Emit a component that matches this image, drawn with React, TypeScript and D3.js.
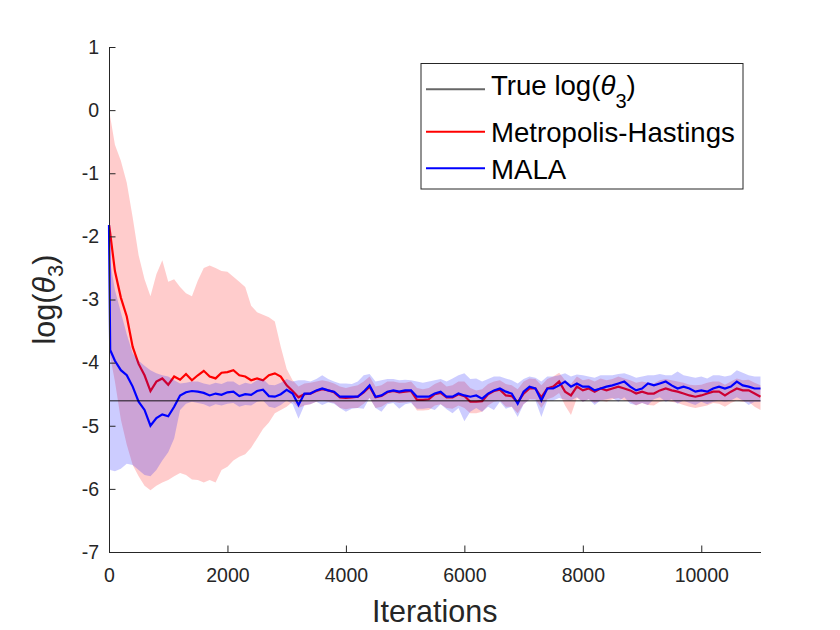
import React, { useRef, useEffect } from 'react';
import * as d3 from 'd3';

// iteration grid of the traces (dense at the very start where MALA drops)
const iterations: number[] = [0, 20, ...d3.range(100, 11001, 100)];

const trueLogTheta3 = -4.605;

const mhMean = [
	-1.82, -1.95,
	-2.55, -2.97, -3.27, -3.75, -4.02, -4.2, -4.45, -4.3, -4.25, -4.35,
	-4.22, -4.27, -4.18, -4.28, -4.2, -4.13, -4.22, -4.25, -4.16, -4.15,
	-4.12, -4.2, -4.22, -4.28, -4.25, -4.28, -4.2, -4.17, -4.22, -4.36,
	-4.45, -4.55, -4.5, -4.49, -4.45, -4.42, -4.44, -4.47, -4.55, -4.56,
	-4.55, -4.54, -4.47, -4.38, -4.55, -4.53, -4.47, -4.45, -4.47, -4.46,
	-4.45, -4.59, -4.59, -4.58, -4.5, -4.48, -4.55, -4.55, -4.5, -4.53,
	-4.62, -4.62, -4.61, -4.5, -4.45, -4.43, -4.52, -4.53, -4.63, -4.49,
	-4.41, -4.41, -4.55, -4.41, -4.38, -4.3, -4.46, -4.52, -4.38, -4.44,
	-4.41, -4.46, -4.41, -4.44, -4.41, -4.38, -4.41, -4.44, -4.49, -4.46,
	-4.49, -4.49, -4.44, -4.41, -4.44, -4.46, -4.49, -4.52, -4.54, -4.52,
	-4.49, -4.46, -4.46, -4.52, -4.46, -4.41, -4.44, -4.44, -4.49, -4.54,
];

const mhUpper = [
	0.15, -0.1,
	-0.55, -0.8, -1.15, -1.7, -2.3, -2.68, -2.95, -2.6, -2.38, -2.72,
	-2.68, -2.8, -2.9, -2.95, -2.7, -2.5, -2.46, -2.5, -2.55, -2.56,
	-2.64, -2.72, -2.8, -3.1, -3.2, -3.24, -3.28, -3.35, -3.75, -4.1,
	-4.28, -4.38, -4.33, -4.32, -4.3, -4.28, -4.3, -4.33, -4.38, -4.4,
	-4.38, -4.36, -4.3, -4.22, -4.38, -4.36, -4.3, -4.3, -4.32, -4.32,
	-4.3, -4.4, -4.42, -4.4, -4.34, -4.3, -4.38, -4.36, -4.3, -4.3,
	-4.4, -4.44, -4.42, -4.34, -4.3, -4.28, -4.34, -4.36, -4.42, -4.3,
	-4.25, -4.26, -4.36, -4.26, -4.22, -4.16, -4.28, -4.34, -4.22, -4.28,
	-4.26, -4.3, -4.25, -4.28, -4.26, -4.22, -4.25, -4.28, -4.32, -4.3,
	-4.32, -4.33, -4.28, -4.26, -4.28, -4.3, -4.32, -4.35, -4.36, -4.35,
	-4.32, -4.3, -4.3, -4.35, -4.3, -4.25, -4.28, -4.27, -4.32, -4.36,
];

const mhLower = [
	-3.7, -3.9,
	-4.3, -4.9, -5.3, -5.62, -5.8, -5.95, -6.02, -5.95, -5.9, -5.86,
	-5.8, -5.75, -5.78, -5.85, -5.86, -5.9, -5.86, -5.9, -5.7, -5.65,
	-5.55, -5.49, -5.45, -5.35, -5.2, -5.05, -4.95, -4.8, -4.75, -4.7,
	-4.62, -4.72, -4.68, -4.66, -4.62, -4.6, -4.62, -4.64, -4.72, -4.74,
	-4.72, -4.72, -4.65, -4.56, -4.72, -4.7, -4.64, -4.62, -4.64, -4.63,
	-4.62, -4.76, -4.76, -4.75, -4.68, -4.66, -4.72, -4.73, -4.68, -4.72,
	-4.8, -4.8, -4.78, -4.68, -4.62, -4.6, -4.7, -4.7, -4.8, -4.66,
	-4.58, -4.58, -4.72, -4.58, -4.55, -4.48, -4.68, -4.83, -4.56, -4.62,
	-4.58, -4.64, -4.6, -4.62, -4.58, -4.56, -4.6, -4.62, -4.68, -4.64,
	-4.67, -4.68, -4.62, -4.6, -4.62, -4.64, -4.67, -4.7, -4.72, -4.7,
	-4.68, -4.64, -4.65, -4.7, -4.64, -4.6, -4.62, -4.62, -4.7, -4.75,
];

const malaMean = [
	-1.82, -3.8,
	-3.97, -4.12, -4.2, -4.38, -4.62, -4.75, -5.0, -4.88, -4.82, -4.85,
	-4.7, -4.52, -4.47, -4.45, -4.46, -4.48, -4.52, -4.49, -4.51, -4.47,
	-4.46, -4.53, -4.5, -4.51, -4.45, -4.43, -4.53, -4.54, -4.5, -4.43,
	-4.49, -4.67, -4.49, -4.49, -4.44, -4.41, -4.44, -4.46, -4.54, -4.54,
	-4.54, -4.54, -4.46, -4.36, -4.54, -4.52, -4.46, -4.44, -4.46, -4.44,
	-4.44, -4.54, -4.54, -4.54, -4.49, -4.46, -4.54, -4.54, -4.49, -4.52,
	-4.54, -4.52, -4.57, -4.49, -4.44, -4.41, -4.46, -4.49, -4.65, -4.46,
	-4.38, -4.41, -4.6, -4.41, -4.41, -4.36, -4.3, -4.38, -4.33, -4.38,
	-4.38, -4.44, -4.41, -4.38, -4.36, -4.33, -4.3, -4.38, -4.44, -4.41,
	-4.33, -4.36, -4.33, -4.3, -4.36, -4.41, -4.38, -4.41, -4.46, -4.44,
	-4.46, -4.41, -4.38, -4.41, -4.38, -4.3, -4.36, -4.38, -4.41, -4.41,
];

const malaUpper = [
	-1.82, -2.4,
	-2.85, -3.2, -3.55, -3.85, -3.97, -4.05, -4.12, -4.17, -4.2, -4.22,
	-4.28, -4.33, -4.32, -4.3, -4.3, -4.33, -4.35, -4.32, -4.34, -4.3,
	-4.3, -4.36, -4.32, -4.34, -4.28, -4.26, -4.35, -4.36, -4.32, -4.26,
	-4.3, -4.28, -4.28, -4.3, -4.26, -4.2, -4.26, -4.3, -4.33, -4.33,
	-4.34, -4.3, -4.2, -4.18, -4.3, -4.28, -4.26, -4.26, -4.28, -4.27,
	-4.28, -4.3, -4.32, -4.3, -4.28, -4.26, -4.3, -4.25, -4.2, -4.17,
	-4.26, -4.25, -4.3, -4.26, -4.22, -4.22, -4.25, -4.28, -4.33, -4.26,
	-4.22, -4.24, -4.3, -4.22, -4.22, -4.2, -4.17, -4.22, -4.19, -4.2,
	-4.22, -4.24, -4.2, -4.2, -4.2, -4.18, -4.17, -4.2, -4.24, -4.22,
	-4.2, -4.2, -4.18, -4.2, -4.2, -4.14, -4.2, -4.22, -4.24, -4.22,
	-4.25, -4.2, -4.2, -4.22, -4.2, -4.12, -4.16, -4.2, -4.22, -4.22,
];

const malaLower = [
	-5.55, -5.7,
	-5.72, -5.68, -5.6, -5.62, -5.7, -5.78, -5.8, -5.7, -5.55, -5.42,
	-5.2, -4.75, -4.65, -4.62, -4.64, -4.66, -4.7, -4.66, -4.68, -4.65,
	-4.64, -4.7, -4.67, -4.68, -4.62, -4.6, -4.7, -4.72, -4.67, -4.6,
	-4.66, -4.89, -4.67, -4.66, -4.62, -4.67, -4.63, -4.65, -4.72, -4.78,
	-4.73, -4.72, -4.73, -4.56, -4.72, -4.78, -4.66, -4.64, -4.73, -4.66,
	-4.64, -4.73, -4.73, -4.72, -4.75, -4.66, -4.74, -4.8, -4.72, -4.93,
	-4.78, -4.72, -4.78, -4.7, -4.75, -4.62, -4.73, -4.7, -4.86, -4.66,
	-4.59, -4.6, -4.86, -4.6, -4.6, -4.56, -4.59, -4.6, -4.55, -4.62,
	-4.58, -4.67, -4.6, -4.58, -4.56, -4.62, -4.55, -4.65, -4.67, -4.64,
	-4.67, -4.58, -4.55, -4.62, -4.58, -4.65, -4.6, -4.64, -4.67, -4.62,
	-4.66, -4.62, -4.6, -4.62, -4.6, -4.55, -4.6, -4.67, -4.62, -4.62,
];

const xTicks = [0, 2000, 4000, 6000, 8000, 10000];
const yTicks = [-7, -6, -5, -4, -3, -2, -1, 0, 1];

const legendItems = [
	{ label: 'True log(', theta: true, color: 'rgba(0,0,0,0.6)' },
	{ label: 'Metropolis-Hastings', theta: false, color: '#ff0000' },
	{ label: 'MALA', theta: false, color: '#0000ff' },
];

const font = '"Liberation Sans", Arial, Helvetica, sans-serif';
const axisColor = '#262626';

const App: React.FC = () => {
	const svgRef = useRef<SVGSVGElement | null>(null);

	const width = 840;
	const height = 630;
	const marginTop = 47;
	const marginRight = 79.5;
	const marginBottom = 78;
	const marginLeft = 109;

	useEffect(() => {
		if (!svgRef.current) return;
		const svg = d3.select(svgRef.current);
		svg.selectAll('*').remove();

		const x = d3.scaleLinear().domain([0, 11000]).range([marginLeft, width - marginRight]);
		const y = d3.scaleLinear().domain([-7, 1]).range([height - marginBottom, marginTop]);

		const band = (lo: number[], hi: number[]) => d3.area<number>()
			.x((_, i) => x(iterations[i]))
			.y0((_, i) => y(lo[i]))
			.y1((_, i) => y(hi[i]));

		const line = d3.line<number>()
			.x((_, i) => x(iterations[i]))
			.y(d => y(d));

		// MH band and mean
		svg.append('path')
			.attr('fill', 'rgba(255,0,0,0.2)')
			.attr('d', band(mhLower, mhUpper)(mhMean));
		svg.append('path')
			.attr('fill', 'none')
			.attr('stroke', '#ff0000')
			.attr('stroke-width', 2.2)
			.attr('d', line(mhMean));

		// MALA band and mean
		svg.append('path')
			.attr('fill', 'rgba(0,0,255,0.2)')
			.attr('d', band(malaLower, malaUpper)(malaMean));
		svg.append('path')
			.attr('fill', 'none')
			.attr('stroke', '#0000ff')
			.attr('stroke-width', 2.2)
			.attr('d', line(malaMean));

		// true value
		svg.append('line')
			.attr('x1', x(0))
			.attr('x2', x(11000))
			.attr('y1', y(trueLogTheta3))
			.attr('y2', y(trueLogTheta3))
			.attr('stroke', 'rgba(0,0,0,0.6)')
			.attr('stroke-width', 1.5);

		// axes, ticks pointing inwards
		svg.append('g')
			.attr('transform', `translate(0,${height - marginBottom})`)
			.call(d3.axisBottom(x).tickValues(xTicks).tickFormat(d3.format('d')).tickSizeInner(-6.5).tickSizeOuter(0).tickPadding(16))
			.attr('color', axisColor)
			.attr('font-family', font)
			.attr('font-size', 19.5);

		svg.append('g')
			.attr('transform', `translate(${marginLeft},0)`)
			.call(d3.axisLeft(y).tickValues(yTicks).tickFormat(d3.format('d')).tickSizeInner(-6.5).tickSizeOuter(0).tickPadding(10))
			.attr('color', axisColor)
			.attr('font-family', font)
			.attr('font-size', 19.5)
			.call(g => g.selectAll('.tick text').text(d => String(d).replace('\u2212', '-')));

		// axis labels
		svg.append('text')
			.attr('x', (marginLeft + width - marginRight) / 2)
			.attr('y', 621.5)
			.attr('text-anchor', 'middle')
			.attr('font-family', font)
			.attr('font-size', 30.5)
			.attr('fill', axisColor)
			.text('Iterations');

		const yl = svg.append('text')
			.attr('transform', `translate(55,${(marginTop + height - marginBottom) / 2}) rotate(-90)`)
			.attr('text-anchor', 'middle')
			.attr('font-family', font)
			.attr('font-size', 30.5)
			.attr('fill', axisColor);
		yl.append('tspan').text('log(');
		yl.append('tspan').attr('font-style', 'italic').text('\u03b8');
		yl.append('tspan').attr('font-size', 22).attr('dy', 8).text('3');
		yl.append('tspan').attr('dy', -8).text(')');

		// legend
		const legend = svg.append('g');
		legend.append('rect')
			.attr('x', 421).attr('y', 63.5)
			.attr('width', 322).attr('height', 125.5)
			.attr('fill', '#fff')
			.attr('stroke', axisColor)
			.attr('stroke-width', 1);

		const rowLine = [89.3, 131.7, 168.3];
		const rowBase = [95, 141.7, 179.3];
		legendItems.forEach((item, i) => {
			legend.append('line')
				.attr('x1', 426).attr('x2', 485)
				.attr('y1', rowLine[i]).attr('y2', rowLine[i])
				.attr('stroke', item.color)
				.attr('stroke-width', 2);
			const t = legend.append('text')
				.attr('x', 491)
				.attr('y', rowBase[i])
				.attr('font-family', font)
				.attr('font-size', 27.6)
				.attr('fill', '#000');
			t.append('tspan').text(item.label);
			if (item.theta) {
				t.append('tspan').attr('font-style', 'italic').text('\u03b8');
				t.append('tspan').attr('font-size', 20).attr('dy', 13).text('3');
				t.append('tspan').attr('dy', -13).text(')');
			}
		});

		return () => { svg.selectAll('*').remove(); };
	}, []);

	return (
		<div style={{ position: 'absolute', left: 0, top: 0 }}>
			<svg ref={svgRef} width={width} height={height} style={{ display: 'block', background: '#fff' }} />
		</div>
	);
};

export default App;
